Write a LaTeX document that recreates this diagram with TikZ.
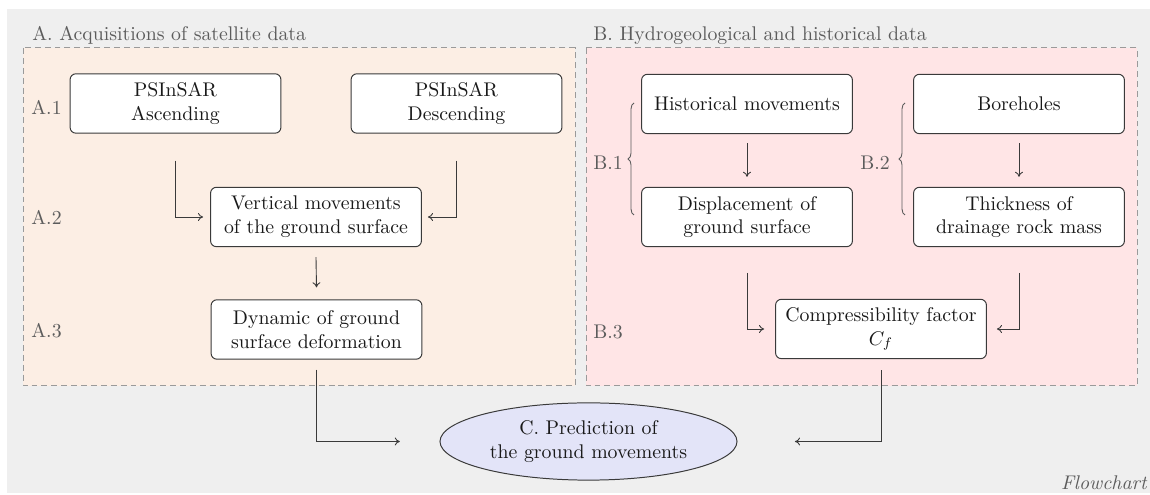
\documentclass[tikz,border=0pt]{standalone}
\usetikzlibrary{arrows.meta,shapes.geometric,decorations.pathreplacing}
\definecolor{bggray}{HTML}{EFEFEF}
\definecolor{afill}{HTML}{FCEEE4}
\definecolor{bfill}{HTML}{FFE5E6}
\definecolor{cfill}{HTML}{E3E4F8}
\definecolor{dashgray}{HTML}{9A9A9A}
\definecolor{labgray}{HTML}{5C5C5C}
\definecolor{edgecol}{HTML}{3A3A3A}
\begin{document}
\begin{tikzpicture}[x=0.505pt,y=-0.505pt,
  box/.style={draw=edgecol, fill=white, rounded corners=3pt, minimum width=106.5pt, minimum height=30pt, align=center, inner sep=2pt, text=black!90, line width=0.5pt},
  group/.style={draw=dashgray, dash pattern=on 3pt off 2pt, line width=0.5pt},
  grouptitle/.style={text=labgray, anchor=base west, inner sep=0pt},
  lab/.style={text=labgray, anchor=west, inner sep=0pt},
  arr/.style={draw=edgecol, line width=0.45pt, -{To[length=2.6pt,width=4pt]}},
  brc/.style={draw=labgray, line width=0.45pt, decorate, decoration={brace, amplitude=3pt}}]
\useasboundingbox (0,0) rectangle (1150,495);
\fill[bggray] (7,9) rectangle (1150,493);
% groups
\draw[group, fill=afill] (23,48) rectangle (575,386);
\draw[group, fill=bfill] (586,48) rectangle (1137,386);
\node[grouptitle] (ta) at (32,41) {A. Acquisitions of satellite data};
\node[grouptitle] (tb) at (593,41) {B. Hydrogeological and historical data};
% labels
\node[lab] (a1) at (31,107) {A.1};
\node[lab] (a2) at (31,217) {A.2};
\node[lab] (a3) at (31,331) {A.3};
\node[lab] (b1) at (593,163) {B.1};
\node[lab] (b2) at (860,163) {B.2};
\node[lab] (b3) at (593,332) {B.3};
\draw[brc] (634,215) -- (634,103);
\draw[brc] (905,215) -- (905,103);
% boxes A
\node[box] (asc) at (175.5,103.5) {PSInSAR\\Ascending};
\node[box] (desc) at (456.5,103.5) {PSInSAR\\Descending};
\node[box] (vm) at (316,217) {Vertical movements\\of the ground surface};
\node[box] (dyn) at (316.5,329.5) {Dynamic of ground\\surface deformation};
% boxes B
\node[box] (hist) at (747,104) {Historical movements};
\node[box] (bore) at (1019,104) {Boreholes};
\node[box] (disp) at (747,217) {Displacement of\\ground surface};
\node[box] (thick) at (1019,217) {Thickness of\\drainage rock mass};
\node[box] (cf) at (881,329) {Compressibility factor\\$C_f$};
% prediction
\node[ellipse, draw=edgecol, fill=cfill, line width=0.5pt, minimum width=150pt, minimum height=39pt, inner sep=0pt, align=center, text=black!90] (pred) at (588.5,441.5) {C. Prediction of\\the ground movements};
\node[text=labgray, anchor=base east, inner sep=0pt, font=\itshape] (fc) at (1147,490) {Flowchart};
% connectors
\draw[arr] ([yshift=-13.6pt]asc.south) |- ([xshift=-3.5pt]vm.west);
\draw[arr] ([yshift=-13.6pt]desc.south) |- ([xshift=3pt]vm.east);
\draw[arr] ([yshift=-5pt]vm.south) -- ([yshift=6pt]dyn.north);
\draw[arr] ([yshift=-5pt]dyn.south) |- ([xshift=-20pt]pred.west);
\draw[arr] ([yshift=-4.5pt]hist.south) -- ([yshift=5pt]disp.north);
\draw[arr] ([yshift=-4.5pt]bore.south) -- ([yshift=5pt]thick.north);
\draw[arr] ([yshift=-13pt]disp.south) |- ([xshift=-5.5pt]cf.west);
\draw[arr] ([yshift=-13pt]thick.south) |- ([xshift=5pt]cf.east);
\draw[arr] ([yshift=-5.5pt]cf.south) |- ([xshift=29pt]pred.east);
\end{tikzpicture}
\end{document}
